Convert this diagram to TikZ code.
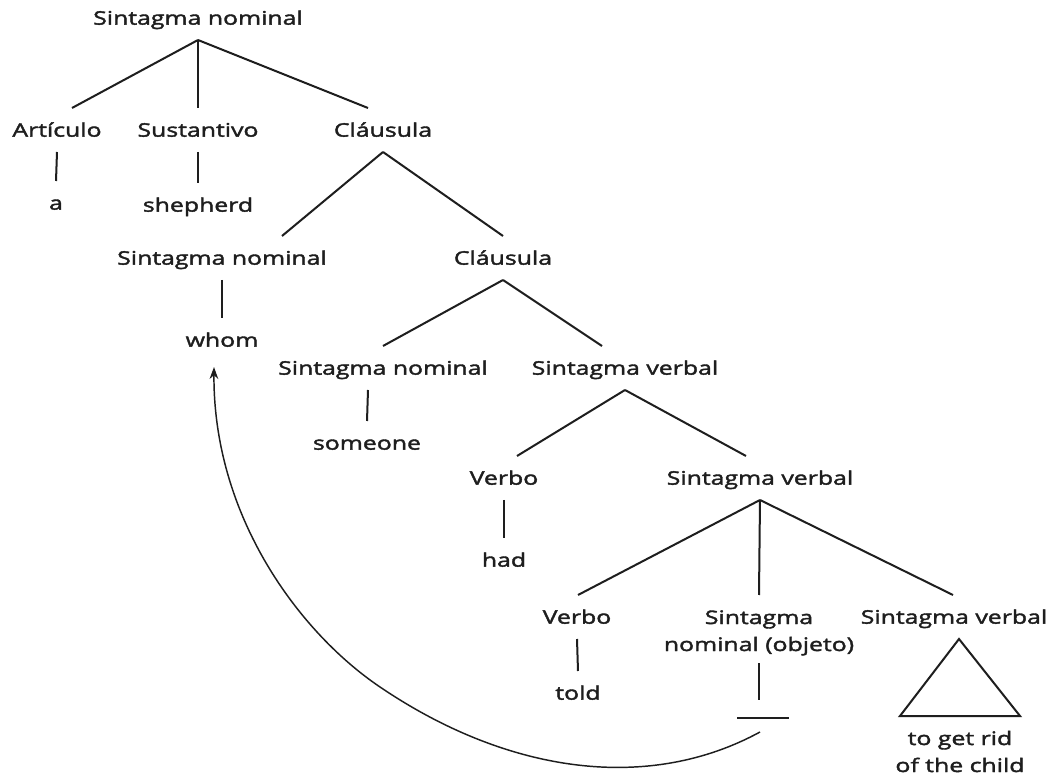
\documentclass[tikz,border=0pt]{standalone}
\usepackage{fontspec}
\setmainfont{Open Sans}[FakeStretch=1.33, FakeBold=2]
\usetikzlibrary{calc,arrows.meta}
\definecolor{ink}{HTML}{1E1E1E}
\begin{document}
\begin{tikzpicture}[x=0.75pt,y=-0.75pt,
  font=\fontsize{14}{20.25}\selectfont,
  lbl/.style={inner sep=0pt, outer xsep=0pt, outer ysep=11.5pt,
              text height=10pt, text depth=0pt, text=ink},
  stack/.style={inner sep=0pt, align=center, text=ink, anchor=base},
  branch/.style={draw=ink, line width=1.5pt},
  movement/.style={draw=ink, line width=1.1pt,
                   -{Stealth[length=9pt,width=6.5pt]}}]
\fill[white] (0,0) rectangle (1054,780);
\useasboundingbox (0,0) rectangle (1054,780);

% labels of the tree
\node[lbl] (root)   at (198,18)  {Sintagma nominal};
\node[lbl] (art)    at (57,130)  {Artículo};
\node[lbl] (sus)    at (198,130) {Sustantivo};
\node[lbl] (cl1)    at (383,130) {Cláusula};
\node[lbl] (a)      at (56,203)  {a};
\node[lbl] (shep)   at (198,205) {shepherd};
\node[lbl] (sn2)    at (222,258) {Sintagma nominal};
\node[lbl] (cl2)    at (503,258) {Cláusula};
\node[lbl] (whom)   at (222,340) {whom};
\node[lbl] (sn3)    at (383,368) {Sintagma nominal};
\node[lbl] (sv1)    at (625,368) {Sintagma verbal};
\node[lbl] (someone) at (367,443) {someone};
\node[lbl] (vb1)    at (504,478) {Verbo};
\node[lbl] (sv2)    at (760,478) {Sintagma verbal};
\node[lbl] (had)    at (504,560) {had};
\node[lbl] (vb2)    at (577,617) {Verbo};
\node[stack] (obj)  at (759,651) {Sintagma\\nominal (objeto)};
\node[lbl] (sv3)    at (954,617) {Sintagma verbal};
\node[lbl] (told)   at (578,693) {told};
\node[stack] (sub)  at (960,772) {to get rid\\of the child};

% empty object position
\coordinate (gap) at ($(obj.base)+(0,67)$);

% branches
\draw[branch] (root.south) -- ($(art.north)+(15,0)$);
\draw[branch] (root.south) -- (sus.north);
\draw[branch] (root.south) -- ($(cl1.north)+(-15,0)$);
\draw[branch] (art.south) -- (a.north);
\draw[branch] (sus.south) -- (shep.north);
\draw[branch] (cl1.south) -- ($(sn2.north)+(60,0)$);
\draw[branch] (cl1.south) -- (cl2.north);
\draw[branch] (sn2.south) -- (whom.north);
\draw[branch] (cl2.south) -- (sn3.north);
\draw[branch] (cl2.south) -- ($(sv1.north)+(-23,0)$);
\draw[branch] ($(sn3.south)+(-15,0)$) -- (someone.north);
\draw[branch] (sv1.south) -- ($(vb1.north)+(13,0)$);
\draw[branch] (sv1.south) -- ($(sv2.north)+(-14,0)$);
\draw[branch] (vb1.south) -- (had.north);
\draw[branch] (sv2.south) -- ($(vb2.north)+(1,0)$);
\draw[branch] (sv2.south) -- ($(obj.base)+(0,-56)$);
\draw[branch] (sv2.south) -- ($(sv3.north)+(-1,0)$);
\draw[branch] (vb2.south) -- (told.north);
\draw[branch] ($(obj.base)+(0,12)$) -- ($(gap)+(0,-18)$);
\draw[branch] ($(gap)+(-22,0)$) -- ($(gap)+(30,0)$);

% unexpanded phrase
\draw[branch, line join=miter] ($(sv3.south)+(5,0)$) -- ++(-59,77) -- ++(120,0) -- cycle;

% movement arrow from the gap back to "whom"
\draw[movement] ($(gap)+(1,14)$)
  .. controls (650,792) and (510,775) .. (380,687)
  .. controls (300,633) and (213,517) .. ($(whom.south)+(-8,5)$);
\end{tikzpicture}
\end{document}
